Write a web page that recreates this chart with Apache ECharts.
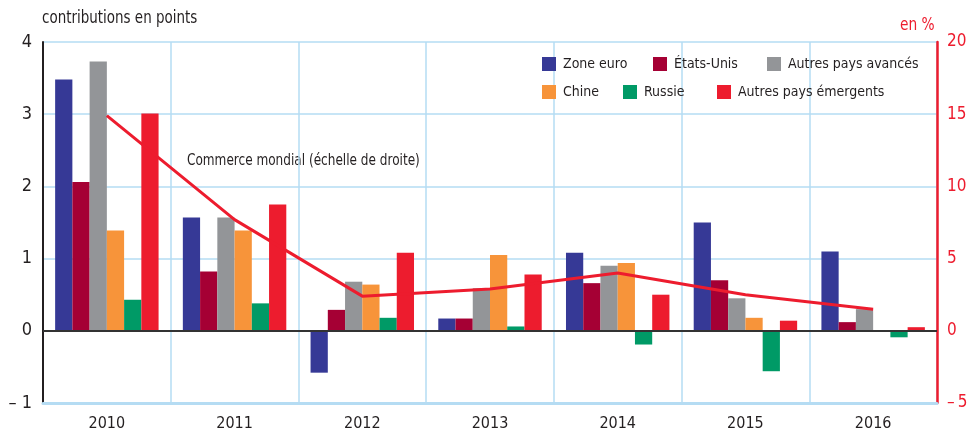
<!DOCTYPE html>
<html>
<head>
<meta charset="utf-8">
<script src="https://cdn.jsdelivr.net/npm/echarts@6/dist/echarts.min.js"></script>
<style>
  html, body { margin: 0; padding: 0; background: #fff; }
  #chart { width: 968px; height: 436px; }
</style>
</head>
<body>
<div id="chart"></div>
<script>
var years = ['2010', '2011', '2012', '2013', '2014', '2015', '2016']

// contributions en points (échelle de gauche)
var zoneEuro = [3.48, 1.57, -0.58, 0.17, 1.08, 1.50, 1.10]
var etatsUnis = [2.06, 0.82, 0.29, 0.17, 0.66, 0.70, 0.12]
var autresAvances = [3.73, 1.57, 0.68, 0.59, 0.90, 0.45, 0.30]
var chine = [1.39, 1.39, 0.64, 1.05, 0.94, 0.18, 0.01]
var russie = [0.43, 0.38, 0.18, 0.06, -0.19, -0.56, -0.09]
var autresEmergents = [3.01, 1.75, 1.08, 0.78, 0.50, 0.14, 0.05]

// commerce mondial, en % (échelle de droite)
var commerceMondial = [14.9, 7.7, 2.4, 2.9, 4.0, 2.5, 1.5]

var font = "'Liberation Sans Narrow', 'DejaVu Sans Condensed', 'Liberation Sans', sans-serif"
var gridBlue = '#b5dcf3'
var red = '#ed1c2e'
var ink = '#231f20'

function minusFmt (v) {
  return v < 0 ? '\u2013 ' + Math.abs(v) : String(v)
}
function minusFmtTight (v) {
  return v < 0 ? '\u2013\u2009' + Math.abs(v) : String(v)
}

function barSeries (name, data, color) {
  return {
    name: name,
    type: 'bar',
    data: data,
    barGap: 0,
    barCategoryGap: '19%',
    itemStyle: { color: color },
    silent: true
  }
}

var chart = echarts.init(document.getElementById('chart'), null, { renderer: 'canvas' })

var series = [
  barSeries('Zone euro', zoneEuro, '#363996'),
  barSeries('États-Unis', etatsUnis, '#a50034'),
  barSeries('Autres pays avancés', autresAvances, '#939598'),
  barSeries('Chine', chine, '#f7943a'),
  barSeries('Russie', russie, '#009a66'),
  barSeries('Autres pays émergents', autresEmergents, red),
  {
    name: 'Commerce mondial',
    type: 'line',
    yAxisIndex: 1,
    data: commerceMondial,
    symbol: 'none',
    lineStyle: { color: red, width: 3 },
    itemStyle: { color: red },
    z: 5
  }
]
// ligne du zéro
series[0].markLine = {
  silent: true,
  symbol: 'none',
  label: { show: false },
  lineStyle: { color: '#333', width: 2, type: 'solid' },
  data: [{ yAxis: 0 }]
}

// une légende par entrée, pour placer chaque case comme sur l'original
function legendItem (name, left, top) {
  return {
    data: [name],
    left: left,
    top: top,
    padding: 0,
    itemWidth: 14,
    itemHeight: 14,
    icon: 'rect',
    textStyle: { fontFamily: font, fontSize: 14, color: ink, padding: [0, 0, 0, 2] }
  }
}

var option = {
  animation: false,
  textStyle: { fontFamily: font },
  grid: { left: 43, right: 31, top: 42, bottom: 33, outerBoundsMode: 'none', containLabel: false },
  legend: [
    legendItem('Zone euro', 542, 57),
    legendItem('États-Unis', 653, 57),
    legendItem('Autres pays avancés', 767, 57),
    legendItem('Chine', 542, 85),
    legendItem('Russie', 623, 85),
    legendItem('Autres pays émergents', 717, 85)
  ],
  xAxis: {
    type: 'category',
    data: years,
    axisTick: { show: false },
    axisLine: { onZero: false, lineStyle: { color: gridBlue, width: 3 } },
    axisLabel: { fontFamily: font, fontSize: 16, color: ink, margin: 13 },
    splitLine: { show: true, lineStyle: { color: gridBlue, width: 1.5 } }
  },
  yAxis: [
    {
      type: 'value',
      min: -1,
      max: 4,
      interval: 1,
      axisLine: { show: true, lineStyle: { color: ink, width: 2 } },
      axisTick: { show: false },
      axisLabel: { fontFamily: font, fontSize: 18, color: ink, margin: 11, formatter: minusFmt },
      splitLine: { lineStyle: { color: gridBlue, width: 1.5 } }
    },
    {
      type: 'value',
      min: -5,
      max: 20,
      interval: 5,
      position: 'right',
      axisLine: { show: true, lineStyle: { color: red, width: 2.5 } },
      axisTick: { show: false },
      axisLabel: { fontFamily: font, fontSize: 17, color: red, margin: 10, formatter: minusFmtTight },
      splitLine: { show: false }
    }
  ],
  graphic: [
    {
      type: 'text',
      x: 42,
      y: 10,
      scaleX: 0.88,
      style: { text: 'contributions en points', fontFamily: font, fontSize: 17, fill: ink }
    },
    {
      type: 'text',
      x: 900,
      y: 17,
      scaleX: 0.9,
      style: { text: 'en %', fontFamily: font, fontSize: 17, fill: red }
    },
    {
      type: 'text',
      x: 187,
      y: 153,
      scaleX: 0.84,
      style: { text: 'Commerce mondial (échelle de droite)', fontFamily: font, fontSize: 16, fill: ink }
    }
  ],
  series: series
}

chart.setOption(option)
</script>
</body>
</html>
